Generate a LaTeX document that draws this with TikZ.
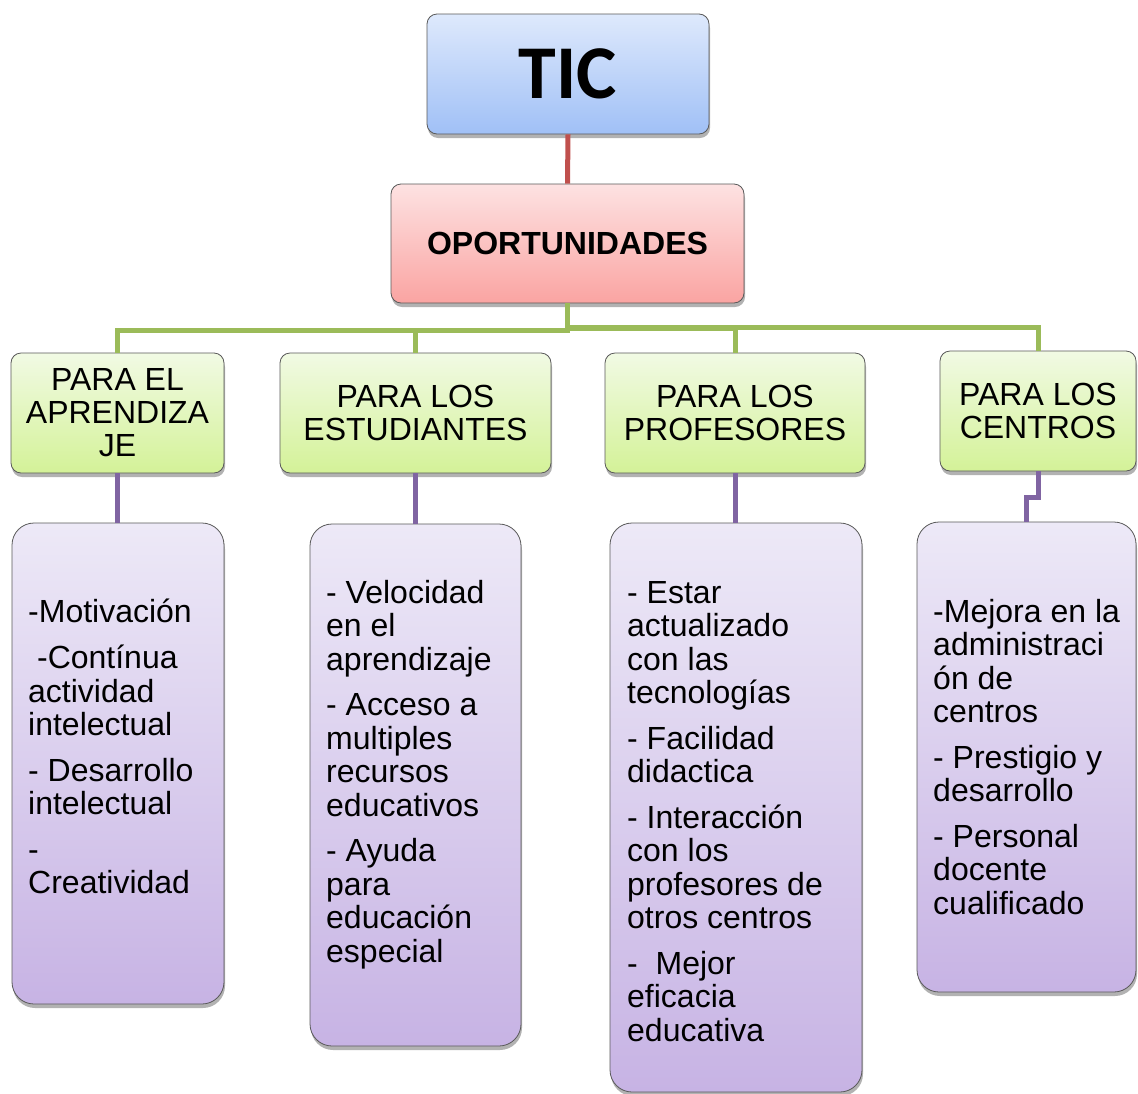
\documentclass[tikz,border=0pt]{standalone}
\usepackage{fontspec}
\setmainfont{Liberation Sans}
\newfontfamily\ticfont{Carlito}
\usetikzlibrary{shadows,calc}
\definecolor{ticTop}{RGB}{222,233,252}
\definecolor{ticBot}{RGB}{160,192,246}
\definecolor{opoTop}{RGB}{253,226,226}
\definecolor{opoBot}{RGB}{250,164,162}
\definecolor{grnTop}{RGB}{241,250,228}
\definecolor{grnBot}{RGB}{212,242,152}
\definecolor{purTop}{RGB}{237,233,247}
\definecolor{purBot}{RGB}{199,179,228}
\definecolor{lnRed}{RGB}{192,80,77}
\definecolor{lnGreen}{RGB}{155,187,89}
\definecolor{lnPurple}{RGB}{128,100,162}
\begin{document}
\begin{tikzpicture}[x=1pt,y=1pt,
  box/.style={draw=black!65, line width=0.8pt, inner sep=0pt,
    drop shadow={shadow xshift=1pt,shadow yshift=-4pt,opacity=0.3,fill=black}},
  ticbox/.style={box, rounded corners=10pt, top color=ticTop, bottom color=ticBot,
    font=\ticfont\bfseries\fontsize{76}{80}\selectfont},
  opobox/.style={box, rounded corners=10pt, top color=opoTop, bottom color=opoBot,
    font=\bfseries\fontsize{32}{36}\selectfont},
  grnbox/.style={box, rounded corners=10pt, top color=grnTop, bottom color=grnBot,
    align=center, font=\fontsize{32}{33}\selectfont},
  purbox/.style={box, rounded corners=22pt, top color=purTop, bottom color=purBot},
  txt/.style={anchor=north west, inner sep=0pt, align=left, font=\fontsize{32}{33.5}\selectfont},
  redline/.style={draw=lnRed, line width=5pt},
  grnline/.style={draw=lnGreen, line width=5pt},
  purline/.style={draw=lnPurple, line width=5pt}
]
\useasboundingbox (0,0) rectangle (1138,-1093);

% main boxes
\node[ticbox, minimum width=282pt, minimum height=120pt] (tic) at (568,-74) {TIC};
\node[opobox, minimum width=353pt, minimum height=119pt] (opo) at (567.5,-243.5) {OPORTUNIDADES};

% category boxes
\node[grnbox, minimum width=213pt, minimum height=120pt] (g1) at (117.5,-413) {PARA EL\\APRENDIZA\\JE};
\node[grnbox, minimum width=271pt, minimum height=120pt] (g2) at (415.5,-413) {PARA LOS\\ESTUDIANTES};
\node[grnbox, minimum width=260pt, minimum height=120pt] (g3) at (735,-413) {PARA LOS\\PROFESORES};
\node[grnbox, minimum width=196pt, minimum height=120pt] (g4) at (1038,-411) {PARA LOS\\CENTROS};

% detail boxes
\node[purbox, minimum width=212pt, minimum height=481pt] (p1) at (118,-763.5) {};
\node[purbox, minimum width=211pt, minimum height=522pt] (p2) at (415.5,-785) {};
\node[purbox, minimum width=252pt, minimum height=569pt] (p3) at (736,-807.5) {};
\node[purbox, minimum width=219pt, minimum height=470pt] (p4) at (1026.5,-757) {};

% connectors
\draw[redline] (tic.south) -- (opo.north);
\draw[grnline] (opo.south) -- ++(0,-27) -| (g1.north);
\draw[grnline] (opo.south) -- ++(0,-27) -| (g2.north);
\draw[grnline] (opo.south) -- ++(0,-25) -| (g3.north);
\draw[grnline] (opo.south) -- ++(0,-24) -| (g4.north);
\draw[purline] (g1.south) -- (g1.south |- p1.north);
\draw[purline] (g2.south) -- (g2.south |- p2.north);
\draw[purline] (g3.south) -- (g3.south |- p3.north);
\draw[purline] (g4.south) -- ++(0,-26) -| (p4.north);

% texts
\node[txt] (t1) at (28,-598.5) {\strut-Motivación\\[12pt]\hspace*{8.9pt}-Contínua\\actividad\\intelectual\\[12pt]- Desarrollo\\intelectual\\[12pt]-\\Creatividad};
\node[txt] (t2) at (326,-579.5) {\strut- Velocidad\\en el\\aprendizaje\\[12pt]- Acceso a\\multiples\\recursos\\educativos\\[12pt]- Ayuda\\para\\educación\\especial};
\node[txt] (t3) at (627,-579.5) {\strut- Estar\\actualizado\\con las\\tecnologías\\[12pt]- Facilidad\\didactica\\[12pt]- Interacción\\con los\\profesores de\\otros centros\\[12pt]-\ \ Mejor\\eficacia\\educativa};
\node[txt] (t4) at (933,-598.5) {\strut-Mejora en la\\administraci\\ón de\\centros\\[12pt]- Prestigio y\\desarrollo\\[12pt]- Personal\\docente\\cualificado};
\end{tikzpicture}
\end{document}
